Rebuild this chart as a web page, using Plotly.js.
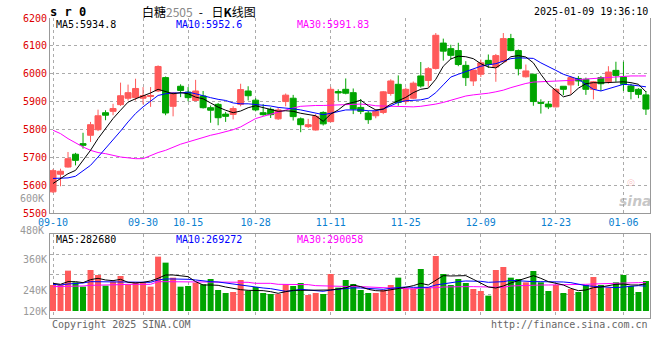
<!DOCTYPE html>
<html><head><meta charset="utf-8">
<script src="https://cdn.plot.ly/plotly-3.0.1.min.js"></script>
<style>html,body{margin:0;padding:0;background:#fff;}#chart{width:660px;height:360px;}</style>
</head><body><div id="chart"></div>
<script>
// ---- data ----
const dates = ['09-10','09-11','09-12','09-13','09-18','09-19','09-20','09-23','09-24','09-25',
 '09-26','09-27','09-30','10-08','10-09','10-10','10-11','10-14','10-15','10-16',
 '10-17','10-18','10-21','10-22','10-23','10-24','10-25','10-28','10-29','10-30',
 '10-31','11-01','11-04','11-05','11-06','11-07','11-08','11-11','11-12','11-13',
 '11-14','11-15','11-18','11-19','11-20','11-21','11-22','11-25','11-26','11-27',
 '11-28','11-29','12-02','12-03','12-04','12-05','12-06','12-09','12-10','12-11',
 '12-12','12-13','12-16','12-17','12-18','12-19','12-20','12-23','12-24','12-25',
 '12-26','12-27','12-30','12-31','01-02','01-03','01-06','01-07','01-08','01-09'];
const openP = [5576,5639,5665,5711,5749,5779,5799,5860,5865,5889,
 5912,5914,5912,5918,5938,5986,5883,5955,5934,5904,
 5920,5878,5890,5855,5854,5890,5938,5905,5860,5872,
 5838,5900,5912,5838,5810,5798,5861,5828,5936,5944,
 5932,5879,5859,5849,5861,5929,5962,5900,5912,5992,
 5976,6019,6110,6090,6083,6030,5974,5998,6048,6024,
 6043,6126,6083,5989,5998,5897,5891,5881,5955,5960,
 5983,5980,5944,5986,5971,6012,5988,5956,5944,5924];
const highP = [5658,5659,5719,5716,5788,5827,5871,5869,5892,5968,
 5961,5982,5952,5952,6030,5990,5934,5962,5952,5978,
 5938,5886,5895,5863,5883,5964,5955,5912,5891,5879,
 5879,5929,5924,5843,5838,5855,5865,5953,5944,5983,
 5947,5909,5867,5873,5938,5980,5994,5950,5972,6042,
 6024,6146,6126,6104,6111,6045,6015,6051,6069,6071,
 6146,6143,6087,6033,6000,5908,5902,5948,5955,5992,
 5992,5986,5974,5992,6027,6043,6043,5964,5948,5938];
const lowP = [5572,5596,5663,5671,5731,5755,5794,5833,5851,5884,
 5904,5904,5890,5881,5934,5851,5847,5916,5901,5901,
 5875,5824,5815,5827,5836,5883,5904,5865,5849,5841,
 5834,5883,5832,5790,5805,5796,5814,5826,5903,5926,
 5855,5855,5820,5840,5855,5921,5885,5891,5909,5950,
 5953,6015,6047,6051,6027,5956,5956,5988,6021,5971,
 6039,6081,5994,5986,5885,5857,5873,5879,5923,5926,
 5956,5924,5908,5938,5964,5971,5938,5908,5912,5852];
const closeP = [5652,5650,5695,5689,5743,5817,5849,5851,5875,5921,
 5932,5947,5921,5922,6026,5859,5931,5940,5914,5938,
 5878,5869,5842,5847,5875,5943,5921,5870,5853,5853,
 5870,5923,5846,5817,5817,5847,5820,5944,5931,5930,
 5873,5865,5835,5865,5935,5974,5897,5944,5966,5956,
 6018,6138,6081,6066,6033,5986,6013,6039,6033,6065,
 6126,6083,6018,6010,5900,5894,5881,5944,5944,5986,
 5974,5944,5971,5964,6006,5994,5962,5936,5926,5873];
const ma5 = [5606,5624,5641,5653,5689,5725,5767,5803,5839,5869,
 5898,5910,5920,5931,5944,5937,5928,5932,5928,5916,
 5910,5895,5880,5869,5860,5866,5878,5885,5879,5873,
 5865,5867,5865,5858,5853,5849,5829,5855,5870,5891,
 5897,5905,5885,5870,5873,5891,5903,5915,5932,5944,
 5948,5980,6027,6053,6063,6061,6054,6036,6024,6021,
 6039,6061,6065,6060,6039,5998,5962,5938,5917,5924,
 5948,5964,5968,5967,5969,5971,5971,5968,5962,5935];
const ma10 = [5624,5624,5626,5632,5651,5671,5701,5731,5763,5794,
 5827,5857,5881,5902,5922,5928,5931,5931,5934,5928,
 5920,5914,5908,5904,5895,5892,5892,5890,5887,5884,
 5879,5877,5874,5870,5865,5858,5853,5858,5865,5870,
 5870,5870,5867,5867,5873,5885,5897,5903,5905,5906,
 5912,5932,5960,5988,5998,6007,6018,6027,6032,6036,
 6045,6054,6057,6057,6055,6039,6024,6012,5998,5989,
 5980,5962,5944,5938,5946,5956,5962,5960,5956,5953];
const ma30 = [5797,5785,5767,5751,5737,5725,5717,5713,5707,5701,
 5698,5695,5695,5707,5717,5725,5737,5747,5755,5763,
 5773,5779,5785,5791,5799,5809,5823,5839,5847,5855,
 5862,5870,5877,5883,5885,5886,5886,5887,5889,5890,
 5891,5891,5889,5885,5884,5883,5881,5881,5881,5883,
 5886,5891,5897,5905,5914,5920,5924,5926,5930,5935,
 5941,5950,5958,5965,5970,5971,5971,5973,5975,5976,
 5979,5981,5983,5986,5988,5989,5990,5992,5992,5992];
const volume = [276000,276000,362000,292000,266000,366000,336000,272000,296000,330000,
 280000,292000,292000,266000,446000,410000,320000,266000,270000,290000,
 280000,312000,246000,228000,234000,306000,242000,264000,228000,222000,
 222000,280000,270000,288000,216000,228000,222000,342000,260000,306000,
 282000,246000,228000,228000,246000,276000,320000,256000,256000,372000,
 260000,450000,342000,276000,312000,288000,252000,240000,212000,366000,
 384000,320000,312000,292000,360000,292000,240000,276000,228000,252000,
 234000,276000,324000,276000,260000,292000,336000,270000,234000,300000];
const volMa5 = [286000,280000,296000,296000,290000,308000,316000,306000,302000,310000,
 292000,288000,292000,300000,316000,336000,336000,332000,326000,296000,
 276000,276000,274000,264000,254000,248000,244000,244000,242000,236000,
 226000,236000,244000,244000,244000,244000,244000,246000,252000,259000,
 276000,266000,250000,242000,240000,246000,256000,262000,272000,286000,
 276000,306000,332000,330000,330000,332000,310000,286000,264000,258000,
 270000,288000,302000,320000,332000,316000,296000,286000,276000,256000,
 242000,246000,260000,264000,272000,280000,282000,276000,276000,282680];
const volMa10 = [280000,276000,282000,284000,288000,296000,296000,296000,296000,296000,
 296000,296000,294000,292000,306000,312000,312000,312000,310000,306000,
 300000,296000,294000,288000,280000,272000,266000,262000,258000,254000,
 246000,238000,242000,250000,246000,240000,238000,246000,250000,256000,
 259000,258000,254000,250000,250000,256000,262000,264000,262000,264000,
 262000,276000,284000,290000,296000,300000,300000,298000,292000,292000,
 296000,304000,300000,296000,296000,296000,296000,296000,294000,290000,
 280000,272000,268000,266000,264000,260000,264000,268000,272000,269272];
const volMa30 = [266000,266000,268000,270000,270000,274000,274000,276000,276000,278000,
 280000,280000,280000,280000,296000,296000,296000,296000,296000,292000,
 292000,292000,292000,292000,292000,292000,292000,286000,286000,286000,
 280000,280000,280000,280000,278000,272000,270000,268000,266000,266000,
 266000,266000,264000,262000,260000,256000,256000,254000,252000,258000,
 258000,260000,264000,266000,266000,266000,266000,266000,266000,262000,
 262000,270000,272000,276000,276000,276000,276000,276000,278000,280000,
 280000,280000,282000,284000,286000,288000,288000,288000,290000,290058];
const tickDates = ['09-10','09-30','10-15','10-28','11-11','11-25','12-09','12-23','01-06'];
const priceTicks = [5500,5600,5700,5800,5900,6000,6100,6200];
const volTickText = ['120K','240K','360K'];
const legendPrice = ['MA5:5934.8','MA10:5952.6','MA30:5991.83'];
const legendVol = ['MA5:282680','MA10:269272','MA30:290058'];

// ---- styles ----
const RED = '#ff5a5a', GREEN = '#00a400';
const C_MA5 = '#000000', C_MA10 = '#0000ff', C_MA30 = '#ff00ff';
const GRID = '#ababab', FRAME = '#999999';
const MONO = 'DejaVu Sans Mono';
const VOL_BASE = 120000;

const volColors = closeP.map((c, i) => c >= openP[i] ? RED : GREEN);

const traces = [
  {type:'candlestick', x:dates, open:openP, high:highP, low:lowP, close:closeP,
   xaxis:'x', yaxis:'y', whiskerwidth:0, hoverinfo:'skip',
   increasing:{line:{color:RED, width:1}, fillcolor:RED},
   decreasing:{line:{color:GREEN, width:1}, fillcolor:GREEN}},
  {type:'scatter', mode:'lines', x:dates, y:ma30, xaxis:'x', yaxis:'y', line:{color:C_MA30, width:1}, hoverinfo:'skip'},
  {type:'scatter', mode:'lines', x:dates, y:ma10, xaxis:'x', yaxis:'y', line:{color:C_MA10, width:1}, hoverinfo:'skip'},
  {type:'scatter', mode:'lines', x:dates, y:ma5, xaxis:'x', yaxis:'y', line:{color:C_MA5, width:1}, hoverinfo:'skip'},
  {type:'bar', x:dates, y:volume.map(v => v - VOL_BASE), base:VOL_BASE, xaxis:'x2', yaxis:'y2',
   width:0.8, marker:{color:volColors, line:{width:0}}, hoverinfo:'skip'},
  {type:'scatter', mode:'lines', x:dates, y:volMa30, xaxis:'x2', yaxis:'y2', line:{color:C_MA30, width:1}, hoverinfo:'skip'},
  {type:'scatter', mode:'lines', x:dates, y:volMa10, xaxis:'x2', yaxis:'y2', line:{color:C_MA10, width:1}, hoverinfo:'skip'},
  {type:'scatter', mode:'lines', x:dates, y:volMa5, xaxis:'x2', yaxis:'y2', line:{color:C_MA5, width:1}, hoverinfo:'skip'},
  {type:'scatter', mode:'lines', x:[], y:[], xaxis:'x2', yaxis:'y3', hoverinfo:'skip'}
];

const VOL_RANGE = [78000, 580000];
const ann = (text, x, y, xanchor, color, extra) => Object.assign({
  text, x, y, xref:'paper', yref:'paper', xanchor, yanchor:'middle', showarrow:false,
  font:{family:MONO, size:10, color}}, extra || {});

const layout = {
  width:660, height:360, margin:{l:50, r:10, t:18, b:42},
  paper_bgcolor:'#ffffff', plot_bgcolor:'#ffffff', showlegend:false,
  font:{family:MONO, size:10, color:'#000'},
  boxgap:0.2, boxgroupgap:0, bargap:0.2,
  xaxis:{domain:[0,1], anchor:'y', type:'category', range:[-0.4,79.54],
    tickmode:'array', tickvals:tickDates, ticktext:tickDates,
    showgrid:true, gridcolor:GRID, griddash:'dot', gridwidth:1,
    showline:true, linecolor:FRAME, linewidth:1, ticks:'',
    tickfont:{family:MONO, size:10, color:'#0a80d0'},
    rangeslider:{visible:false}, fixedrange:true},
  yaxis:{domain:[0.35,1], anchor:'x', range:[5500,6200],
    tickmode:'array', tickvals:priceTicks, ticktext:priceTicks.map(String),
    showgrid:true, gridcolor:GRID, griddash:'dot', zeroline:false,
    showline:true, mirror:true, linecolor:FRAME, linewidth:1, ticks:'',
    tickfont:{family:MONO, size:10, color:'#dd0000'}, fixedrange:true},
  xaxis2:{domain:[0,1], anchor:'y2', type:'category', matches:'x',
    tickmode:'array', tickvals:tickDates, showticklabels:false,
    showgrid:true, gridcolor:GRID, griddash:'dot',
    showline:true, mirror:true, linecolor:FRAME, linewidth:1, ticks:''},
  yaxis2:{domain:[0,0.279], anchor:'x2', range:VOL_RANGE,
    tickmode:'array', tickvals:[120000,242000,426000], ticktext:volTickText,
    showgrid:false, zeroline:false, showline:true, mirror:true, linecolor:FRAME, linewidth:1, ticks:'',
    tickfont:{family:MONO, size:10, color:'#999999'}, fixedrange:true},
  yaxis3:{overlaying:'y2', anchor:'x2', range:VOL_RANGE,
    tickmode:'array', tickvals:[216000,336000,456000], showticklabels:false,
    showgrid:true, gridcolor:GRID, griddash:'dot', zeroline:false, showline:false, ticks:''},
  annotations:[
    ann('<b>s r 0</b>', -0.0033, 1.02, 'left', '#000', {font:{family:MONO, size:12, color:'#000'}}),
    ann('白糖<span style="color:#888888">2505</span>\u2002-\u2002 日<b>K</b>线图', 0.15, 1.02, 'left', '#000',
        {font:{family:'Noto Sans CJK SC', size:12, color:'#000'}}),
    ann('2025-01-09 19:36:10', 1, 1.02, 'right', '#000'),
    ann(legendPrice[0], 0.0067, 0.98, 'left', C_MA5),
    ann(legendPrice[1], 0.2067, 0.98, 'left', C_MA10),
    ann(legendPrice[2], 0.4083, 0.98, 'left', C_MA30),
    ann(legendVol[0], 0.0067, 0.2633, 'left', C_MA5),
    ann(legendVol[1], 0.2067, 0.2633, 'left', C_MA10),
    ann(legendVol[2], 0.4083, 0.2633, 'left', C_MA30),
    ann('Copyright 2025 SINA.COM', 0, -0.02, 'left', '#666666'),
    ann('http://finance.sina.com.cn', 1, -0.02, 'right', '#666666'),
    ann('480K', -0.0067, 0.291, 'right', '#999999'),
    ann('600K', -0.0067, 0.3967, 'right', '#999999'),
    ann('<i><b>sina</b></i>', 0.975, 0.39, 'center', 'rgba(150,150,150,0.55)',
        {font:{family:'DejaVu Sans', size:14, color:'rgba(150,150,150,0.55)'}}),
    ann('◎', 0.968, 0.452, 'center', 'rgba(240,110,110,0.45)',
        {font:{family:'DejaVu Sans', size:9, color:'rgba(240,110,110,0.45)'}})
  ]
};

Plotly.newPlot('chart', traces, layout, {staticPlot:true, displayModeBar:false});
</script>
</body></html>
